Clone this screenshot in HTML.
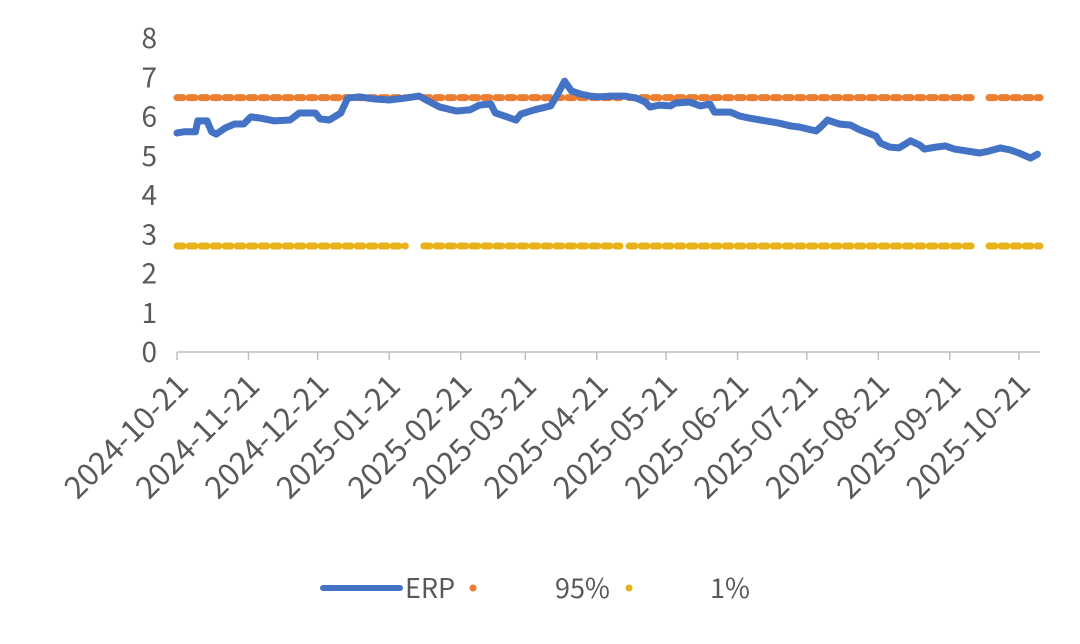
<!DOCTYPE html>
<html><head><meta charset="utf-8"><style>
body{margin:0;background:#fff;}
svg{display:block;font-family:"Noto Sans CJK SC","Liberation Sans",sans-serif;}
</style></head><body>
<svg id="chart" width="1080" height="644" viewBox="0 0 1080 644">
<g id="grid"></g>
<g id="series"></g>
<g>
<line x1="323" y1="588" x2="400" y2="588" stroke="#4472c4" stroke-width="6" stroke-linecap="round"/>
<text x="405" y="598" font-size="27" fill="#595959">ERP</text>
<circle cx="473" cy="588" r="3.5" fill="#ed7d31"/>
<text x="555" y="598" font-size="27" fill="#595959">95%</text>
<circle cx="629" cy="588" r="3.5" fill="#e8b21a"/>
<text x="710" y="598" font-size="27" fill="#595959">1%</text>
</g>
</svg>
<script>
const tickLabels=["2024-10-21","2024-11-21","2024-12-21","2025-01-21","2025-02-21","2025-03-21","2025-04-21","2025-05-21","2025-06-21","2025-07-21","2025-08-21","2025-09-21","2025-10-21"];
const yTicks=[0,1,2,3,4,5,6,7,8];
const days=[0,3,8,9,13,15,17,21,25,29,32,36,42,49,53,60,62,66,71,74,79,85,92,99,105,109,114,121,127,131,136,138,142,147,149,155,162,165,168,171,175,179,183,188,194,199,203,205,209,214,216,222,227,231,233,240,244,248,255,261,266,270,277,279,282,287,292,296,303,305,309,313,318,322,324,329,333,337,348,352,357,361,365,370,373];
const erp=[5.58,5.61,5.61,5.89,5.89,5.61,5.55,5.71,5.81,5.81,5.99,5.96,5.89,5.91,6.09,6.09,5.94,5.91,6.09,6.47,6.50,6.45,6.42,6.47,6.52,6.39,6.24,6.14,6.17,6.29,6.32,6.09,6.01,5.91,6.06,6.17,6.27,6.57,6.90,6.65,6.57,6.52,6.50,6.52,6.52,6.47,6.37,6.24,6.29,6.27,6.34,6.37,6.27,6.32,6.11,6.11,6.01,5.96,5.89,5.83,5.76,5.73,5.63,5.73,5.91,5.81,5.78,5.66,5.50,5.32,5.22,5.20,5.38,5.27,5.17,5.22,5.25,5.17,5.07,5.12,5.20,5.15,5.07,4.94,5.04];
const p95=6.48;
const p1=2.70;
const gapDays=[[99,107],[192,196],[346,352]];
const ns="http://www.w3.org/2000/svg";
const X0=177,X1=1040,DMAX=(1040-177)*365/842;
const x=d=>X0+d*(1019-X0)/365;
const y=v=>352-v*(352-38)/8;
function mk(tag,attrs,parent){const e=document.createElementNS(ns,tag);for(const k in attrs)e.setAttribute(k,attrs[k]);parent.appendChild(e);return e;}
const g=document.getElementById('grid'),s=document.getElementById('series');
yTicks.forEach(v=>{const t=mk('text',{x:157,y:y(v)+10,'text-anchor':'end','font-size':28,fill:'#595959'},g);


t.textContent=v;});
const ax=mk('line',{x1:X0,y1:352,x2:X1,y2:352,stroke:'#bfbfbf','stroke-width':1.5},g);


tickLabels.forEach(l=>{const d=(new Date(l)-new Date(tickLabels[0]))/864e5;const px=x(d);
const tk=mk('line',{x1:px,y1:352,x2:px,y2:360,stroke:'#bfbfbf','stroke-width':1.5},g);


const t=mk('text',{x:px+13,y:388,'text-anchor':'end','font-size':31,fill:'#595959',transform:`rotate(-45 ${px+13} 388)`},g);


t.textContent=l;});
function hline(v,color,name){let segs=[];let a=0;gapDays.forEach(gp=>{segs.push([a,gp[0]]);a=gp[1];});segs.push([a,DMAX]);
segs.forEach(sg=>{const l=mk('line',{x1:x(sg[0]),y1:y(v),x2:x(sg[1]),y2:y(v),stroke:color,'stroke-width':7,'stroke-linecap':'round','stroke-dasharray':'6 6'},s);

});}
hline(p95,'#ed7d31','line-95pct');
hline(p1,'#e8b21a','line-1pct');
const p=mk('polyline',{points:days.map((d,i)=>x(d)+','+y(erp[i])).join(' '),fill:'none',stroke:'#4472c4','stroke-width':7,'stroke-linejoin':'round','stroke-linecap':'round'},s);


</script>
</body></html>
